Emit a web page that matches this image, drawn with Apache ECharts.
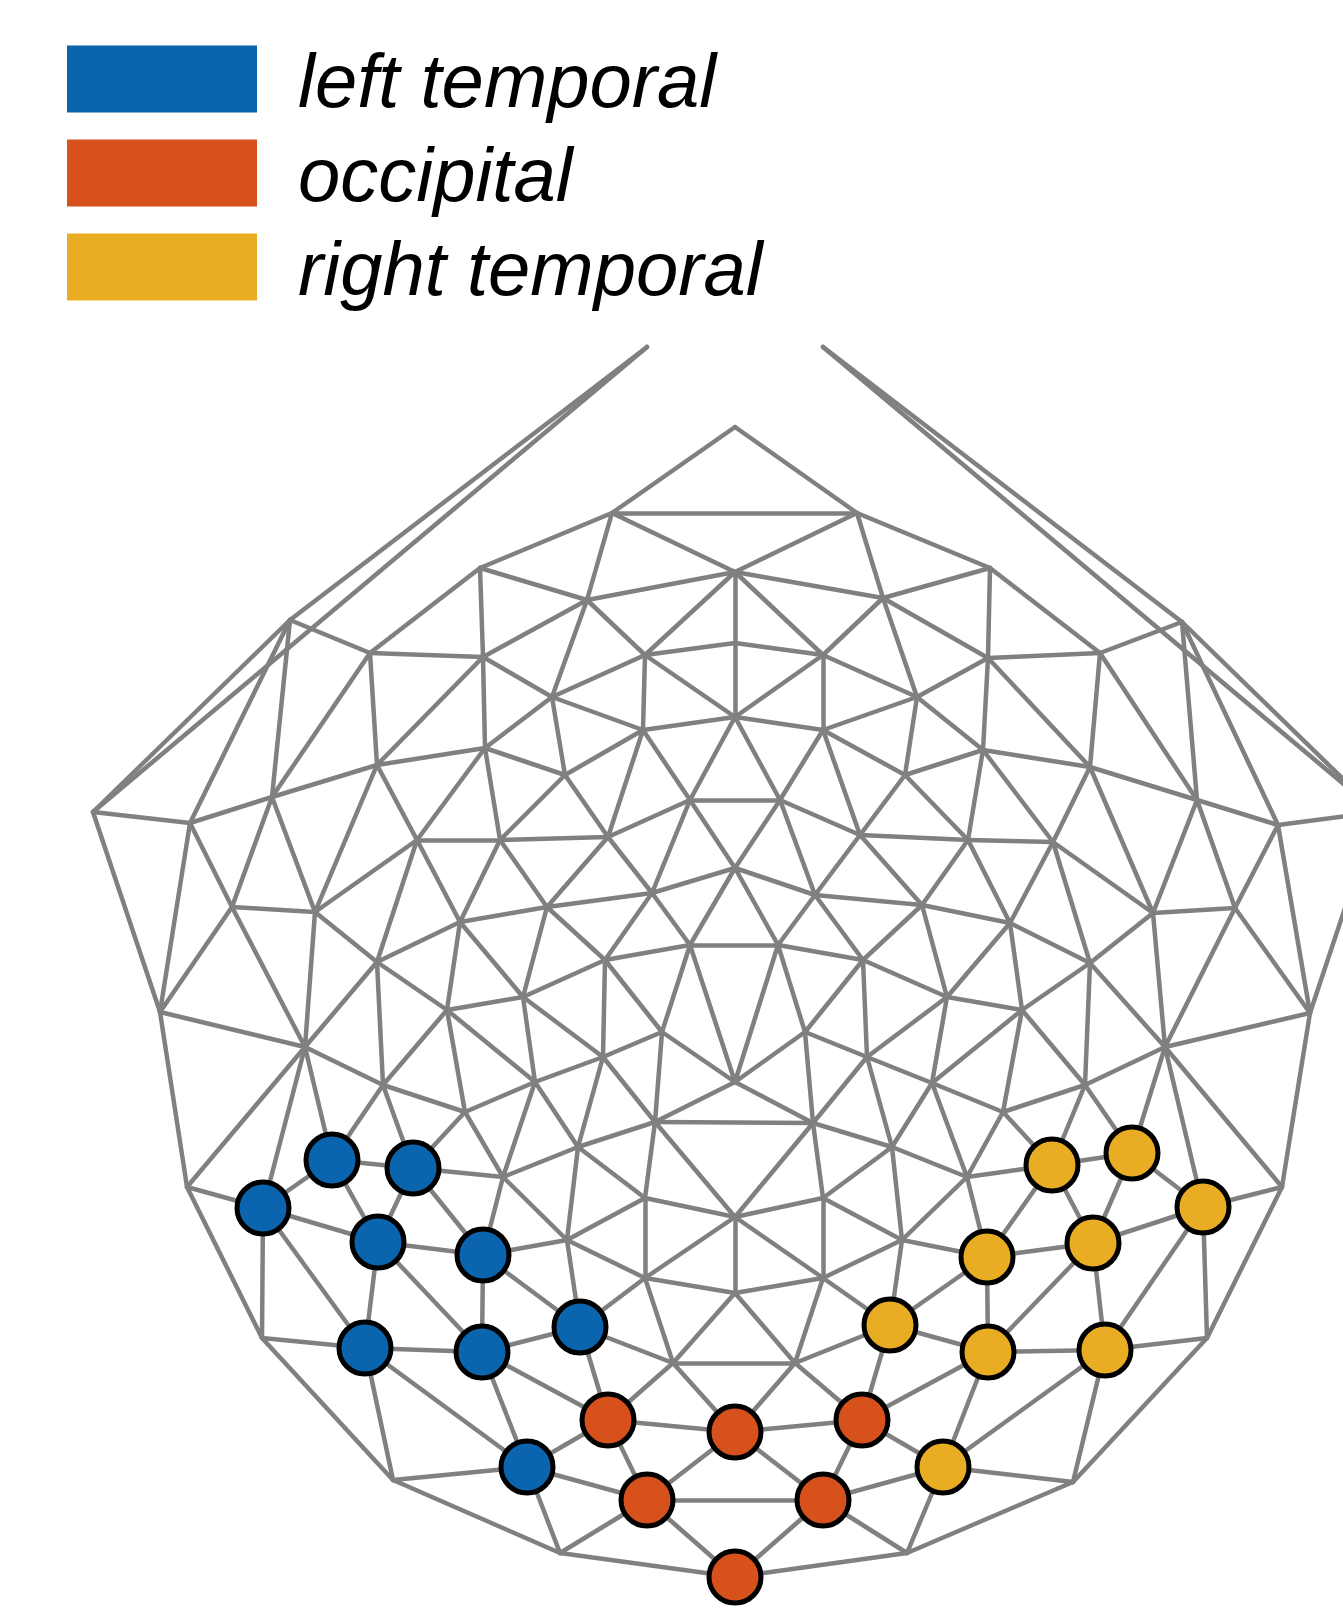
<!DOCTYPE html>
<html>
<head>
<meta charset="utf-8">
<script src="https://cdn.jsdelivr.net/npm/echarts@6/dist/echarts.min.js"></script>
<style>html,body{margin:0;padding:0;background:#fff}#c{width:1343px;height:1613px}</style>
</head>
<body>
<div id="c"></div>
<script>
// ---- data ----
const categories = ['left temporal', 'occipital', 'right temporal'];
const categoryColors = ['#0a64ae', '#d6511b', '#e9ad24'];

// mesh sensor positions (left half a0..a47, right half b0..b47, midline c0..c7)
const meshLeft = [
[647,347],[612,513],[480,568],[290,620],[587,600],[370,653],[483,657],[645,655],[552,697],[643,730],
[485,748],[565,775],[377,765],[272,797],[93,812],[190,823],[417,840],[500,840],[608,837],[690,800],
[232,907],[315,912],[460,922],[547,907],[652,893],[690,945],[605,960],[377,962],[160,1012],[447,1010],
[305,1047],[523,997],[662,1032],[603,1057],[535,1082],[383,1085],[465,1112],[655,1122],[578,1147],[503,1177],
[187,1187],[645,1198],[567,1240],[645,1278],[673,1363],[262,1338],[393,1480],[560,1553]];
const meshRight = [
[823,347],[857,513],[990,568],[1182,622],[883,598],[1100,653],[988,658],[823,655],[917,697],[823,730],
[983,750],[905,775],[1090,767],[1197,800],[1377,812],[1278,825],[1053,842],[968,840],[860,835],[780,800],
[1235,908],[1153,913],[1010,923],[922,905],[815,895],[778,945],[863,960],[1090,963],[1310,1013],[1022,1010],
[1165,1047],[947,997],[805,1032],[867,1057],[932,1083],[1085,1085],[1003,1112],[813,1123],[892,1147],[967,1177],
[1282,1187],[823,1198],[902,1240],[823,1278],[795,1363],[1207,1338],[1073,1482],[907,1553]];
const meshCentre = [[735,427],[735,572],[735,643],[735,717],[735,868],[735,1082],[735,1217],[735,1293]];

// highlighted sensors (L#, O#, R#)
const leftTemporal = [[332,1160],[413,1168],[263,1208],[378,1242],[483,1255],[365,1348],[482,1352],[580,1327],[527,1467]];
const occipital = [[608,1420],[735,1432],[862,1420],[647,1500],[823,1500],[735,1577]];
const rightTemporal = [[1132,1153],[1052,1165],[1203,1207],[1093,1243],[987,1257],[1105,1350],[988,1352],[890,1325],[943,1467]];

// neighbour links
const edgesLeft = "a0-a3 a0-a14 c0-a1 a1-a2 a1-a4 a1-c1 c1-a4 c1-a7 a2-a4 a2-a5 a2-a6 a3-a5 a3-a14 a3-a15 a3-a13 a4-a6 a4-a7 a4-a8 a7-c2 a7-a8 a7-a9 a7-c3 a6-a5 a6-a8 a6-a10 a6-a12 a5-a12 a5-a13 a8-a9 a8-a10 a8-a11 a9-c3 a9-a11 a9-a18 a9-a19 c3-a19 a10-a11 a10-a17 a10-a12 a10-a16 a11-a17 a11-a18 a12-a13 a12-a21 a12-a16 a13-a15 a13-a20 a13-a21 a14-a15 a14-a28 a15-a20 a15-a28 a16-a17 a16-a21 a16-a27 a16-a22 a17-a18 a17-a22 a17-a23 a18-a19 a18-a23 a18-a24 a19-a24 a19-c4 c4-a24 c4-a25 a20-a21 a20-a28 a20-a30 a21-a27 a21-a30 a22-a23 a22-a27 a22-a29 a22-a31 a23-a24 a23-a26 a23-a31 a24-a26 a24-a25 a25-a26 a25-a32 a25-c5 a26-a31 a26-a33 a26-a32 a27-a29 a27-a30 a27-a35 a28-a30 a28-a40 a29-a31 a29-a35 a29-a36 a29-a34 a30-a35 a30-a40 a30-L0 a30-L2 a31-a33 a31-a34 a32-a33 a32-c5 a32-a37 a33-a34 a33-a37 a33-a38 c5-a37 a34-a36 a34-a38 a34-a39 a35-a36 a35-L0 a35-L1 a36-a39 a36-L1 a37-a38 a37-a41 a37-c6 a38-a39 a38-a41 a38-a42 a39-a42 a39-L1 a39-L4 a40-L2 a40-a45 a41-c6 a41-a42 a41-a43 c6-a43 a42-a43 a42-L4 a42-L7 a43-c7 a43-a44 a43-L7 c7-a44 a44-L7 a44-O0 a44-O1 a45-L2 a45-L5 a45-a46 a46-L5 a46-L8 a46-a47 a47-L8 a47-O3 a47-O5 L0-L1 L0-L2 L0-L3 L1-L3 L1-L4 L2-L3 L2-L5 L3-L4 L3-L5 L3-L6 L4-L6 L4-L7 L5-L6 L5-L8 L6-L7 L6-O0 L6-L8 L7-O0 L8-O0 L8-O3 O0-O1 O0-O3 O1-O3 O3-O5";
const edgesRight = "b0-b3 b0-b14 c0-b1 b1-b2 b1-b4 b1-c1 c1-b4 c1-b7 b2-b4 b2-b5 b2-b6 b3-b5 b3-b14 b3-b15 b3-b13 b4-b6 b4-b7 b4-b8 b7-c2 b7-b8 b7-b9 b7-c3 b6-b5 b6-b8 b6-b10 b6-b12 b5-b12 b5-b13 b8-b9 b8-b10 b8-b11 b9-c3 b9-b11 b9-b18 b9-b19 c3-b19 b10-b11 b10-b17 b10-b12 b10-b16 b11-b17 b11-b18 b12-b13 b12-b21 b12-b16 b13-b15 b13-b20 b13-b21 b14-b15 b14-b28 b15-b20 b15-b28 b16-b17 b16-b21 b16-b27 b16-b22 b17-b18 b17-b22 b17-b23 b18-b19 b18-b23 b18-b24 b19-b24 b19-c4 c4-b24 c4-b25 b20-b21 b20-b28 b20-b30 b21-b27 b21-b30 b22-b23 b22-b27 b22-b29 b22-b31 b23-b24 b23-b26 b23-b31 b24-b26 b24-b25 b25-b26 b25-b32 b25-c5 b26-b31 b26-b33 b26-b32 b27-b29 b27-b30 b27-b35 b28-b30 b28-b40 b29-b31 b29-b35 b29-b36 b29-b34 b30-b35 b30-b40 b30-R0 b30-R2 b31-b33 b31-b34 b32-b33 b32-c5 b32-b37 b33-b34 b33-b37 b33-b38 c5-b37 b34-b36 b34-b38 b34-b39 b35-b36 b35-R0 b35-R1 b36-b39 b36-R1 b37-b38 b37-b41 b37-c6 b38-b39 b38-b41 b38-b42 b39-b42 b39-R1 b39-R4 b40-R2 b40-b45 b41-c6 b41-b42 b41-b43 c6-b43 b42-b43 b42-R4 b42-R7 b43-c7 b43-b44 b43-R7 c7-b44 b44-R7 b44-O2 b44-O1 b45-R2 b45-R5 b45-b46 b46-R5 b46-R8 b46-b47 b47-R8 b47-O4 b47-O5 R0-R1 R0-R2 R0-R3 R1-R3 R1-R4 R2-R3 R2-R5 R3-R4 R3-R5 R3-R6 R4-R6 R4-R7 R5-R6 R5-R8 R6-R7 R6-O2 R6-R8 R7-O2 R8-O2 R8-O4 O2-O1 O2-O4 O1-O4 O4-O5";
const edgesMidline = "a1-b1 c1-c2 c2-c3 a19-b19 a25-b25 a37-b37 c6-c7 a44-b44 O3-O4";

// ---- build ----
const pos = {};
meshLeft.forEach((p, i) => pos['a' + i] = p);
meshRight.forEach((p, i) => pos['b' + i] = p);
meshCentre.forEach((p, i) => pos['c' + i] = p);
leftTemporal.forEach((p, i) => pos['L' + i] = p);
occipital.forEach((p, i) => pos['O' + i] = p);
rightTemporal.forEach((p, i) => pos['R' + i] = p);

const linkData = [edgesLeft, edgesRight, edgesMidline].join(' ').trim().split(/\s+/).map(e => {
  const [s, t] = e.split('-');
  return { coords: [pos[s], pos[t]] };
});

const groups = [leftTemporal, occipital, rightTemporal];
const legendFont = '"Liberation Sans", Arial, sans-serif';

const chart = echarts.init(document.getElementById('c'), null, { renderer: 'canvas' });
chart.setOption({
  animation: false,
  backgroundColor: '#ffffff',
  grid: { left: 0, right: 0, top: 0, bottom: 0, containLabel: false },
  xAxis: { type: 'value', min: 0, max: 1343, show: false },
  yAxis: { type: 'value', min: 0, max: 1613, inverse: true, show: false },
  legend: {
    data: categories,
    orient: 'vertical',
    left: 67,
    top: 45,
    padding: 0,
    itemWidth: 190,
    itemHeight: 67,
    itemGap: 15,
    icon: 'rect',
    selectedMode: false,
    itemStyle: { borderWidth: 0 },
    formatter: name => '{s| }\n{t|' + name + '}',
    textStyle: {
      color: '#000',
      rich: {
        s: { fontSize: 2, lineHeight: 14, fontFamily: legendFont },
        t: {
          fontSize: 76,
          fontStyle: 'italic',
          fontFamily: legendFont,
          color: '#000',
          lineHeight: 66,
          padding: [0, 0, 0, 36]
        }
      }
    }
  },
  series: [
    {
      type: 'lines',
      coordinateSystem: 'cartesian2d',
      polyline: false,
      silent: true,
      z: 1,
      lineStyle: { color: '#808080', width: 4.5, opacity: 1, curveness: 0, cap: 'round' },
      data: linkData
    }
  ].concat(groups.map((g, i) => ({
    name: categories[i],
    type: 'scatter',
    z: 3,
    symbol: 'circle',
    symbolSize: 52,
    itemStyle: { color: categoryColors[i], borderColor: '#000', borderWidth: 5, opacity: 1 },
    data: g
  })))
});
</script>
</body>
</html>
